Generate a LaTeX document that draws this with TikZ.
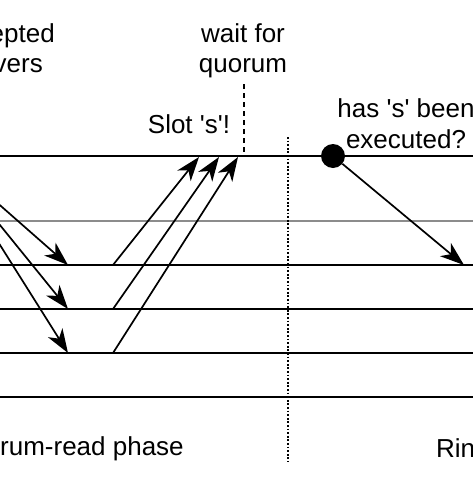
\documentclass[tikz,border=0pt]{standalone}
\usepackage{fontspec}
\setmainfont{Liberation Sans}[Ligatures=TeXOff]
\usetikzlibrary{arrows.meta}
\tikzset{
  tl/.style={line width=1.8pt,black},
  gl/.style={line width=1.8pt,black!45},
  msg/.style={line width=1.7pt,-{Stealth[length=24pt,width=17pt,inset=7pt]}},
  lbl/.style={inner sep=0pt,anchor=base,font=\fontsize{26}{30}\selectfont},
  lbll/.style={lbl,anchor=base west},
  lblr/.style={lbl,anchor=base east},
}
\begin{document}
\begin{tikzpicture}[x=1pt,y=-1pt]
\useasboundingbox (0,0) rectangle (473,477);
\clip (0,0) rectangle (473,477);
% process lines
\coordinate (aw) at (-10,156); \coordinate (ae) at (480,156);
\coordinate (bw) at (-10,221); \coordinate (be) at (480,221);
\coordinate (cw) at (-10,265); \coordinate (ce) at (480,265);
\coordinate (dw) at (-10,309); \coordinate (de) at (480,309);
\coordinate (ew) at (-10,353); \coordinate (ee) at (480,353);
\coordinate (fw) at (-10,397); \coordinate (fe) at (480,397);
\draw[tl] (aw) -- (ae);
\draw[gl] (bw) -- (be);
\draw[tl] (cw) -- (ce);
\draw[tl] (dw) -- (de);
\draw[tl] (ew) -- (ee);
\draw[tl] (fw) -- (fe);
% vertical markers
\coordinate (qt) at (244,84); \coordinate (qb) at (244,156);
\draw[line width=1.6pt,dash pattern=on 5pt off 4pt] (qt) -- (qb);
\coordinate (pt) at (288,137); \coordinate (pb) at (288,462);
\draw[line width=1.8pt,dash pattern=on 1.8pt off 1.8pt] (pt) -- (pb);
% left arrows from off-canvas source
\coordinate (src) at (-56,156);
\coordinate (t1) at (68,265); \coordinate (t2) at (68,309); \coordinate (t3) at (68,353);
\draw[msg] (src) -- (t1);
\draw[msg] (src) -- (t2);
\draw[msg] (src) -- (t3);
% replies
\coordinate (r1) at (113,265); \coordinate (r2) at (113,309); \coordinate (r3) at (113,353);
\coordinate (u1) at (199,157); \coordinate (u2) at (219,157); \coordinate (u3) at (238,157);
\draw[msg] (r1) -- (u1);
\draw[msg] (r2) -- (u2);
\draw[msg] (r3) -- (u3);
% dot and arrow
\node[circle,fill=black,inner sep=0pt,minimum size=24pt] (dot) at (333,156) {};
\coordinate (dt) at (464,265);
\draw[msg] (dot) -- (dt);
% labels
\node[lblr] (l1) at (55,42) {epted};
\node[lblr] (l2) at (43,72) {vers};
\node[lbl] (w1) at (243,42) {wait for};
\node[lbl] (w2) at (243,72) {quorum};
\node[lbl] (sl) at (189,133) {Slot 's'!};
\node[lbl] (h1) at (406,117) {has 's' been};
\node[lbl] (h2) at (406,148) {executed?};
\node[lbll] (ph) at (0,455) {rum-read phase};
\node[lbll] (ri) at (436,457) {Rin};
\end{tikzpicture}
\end{document}
